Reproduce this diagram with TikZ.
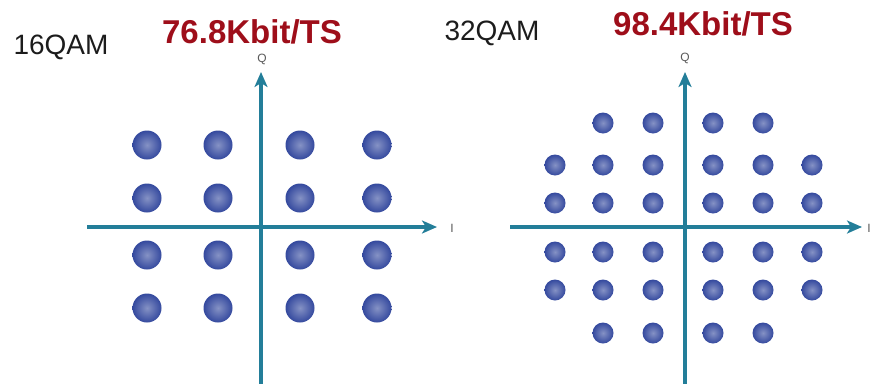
\documentclass[tikz,border=0pt]{standalone}
\usepackage{fontspec}
\setmainfont{Liberation Sans}
\usetikzlibrary{arrows.meta, positioning, calc}
\definecolor{AxisTeal}{HTML}{237E99}
\definecolor{DotBlue}{HTML}{34499E}
\definecolor{RateRed}{HTML}{9E0E1A}
\definecolor{LabelGrey}{HTML}{1C1C1C}

\begin{document}
\begin{tikzpicture}[x=1pt, y=-1pt, every node/.style={inner sep=0pt}]
    \tikzstyle{axis} = [draw=AxisTeal, line width=3.2pt, -{Stealth[length=15pt, width=13pt, inset=4pt]}]
    \tikzstyle{bigdot} = [circle, minimum size=29pt, inner color=DotBlue!60!white, outer color=DotBlue]
    \tikzstyle{smalldot} = [circle, minimum size=21pt, inner color=DotBlue!60!white, outer color=DotBlue]
    \tikzstyle{title} = [font=\fontsize{28}{28}\selectfont, text=LabelGrey]
    \tikzstyle{rate} = [font=\fontsize{33}{33}\selectfont\bfseries, text=RateRed]
    \tikzstyle{axlabel} = [font=\fontsize{12}{12}\selectfont, text=black!65]
    \useasboundingbox (0,0) rectangle (874,383);

    % 16QAM
    \node [title] (t16) at (61,47) {16QAM};
    \node [rate] (r16) at (252,32) {76.8Kbit/TS};
    \coordinate (left16) at (87,227);
    \coordinate (iend16) at (437,227);
    \coordinate (bot16) at (261,385);
    \coordinate (qend16) at (261,72);
    \node [axlabel] (qa) at (262,59) {Q};
    \node [axlabel] (ia) at (452,228) {I};
    \foreach \x [count=\i] in {147,218,300,377}
        \foreach \y [count=\j] in {145,198,255,308}
            \node [bigdot] (p\i\j) at (\x,\y) {};
    \path [axis] (left16) -- (iend16);
    \path [axis] (bot16) -- (qend16);

    % 32QAM
    \node [title] (t32) at (492,33) {32QAM};
    \node [rate] (r32) at (703,24) {98.4Kbit/TS};
    \coordinate (left32) at (510,227);
    \coordinate (iend32) at (862,227);
    \coordinate (bot32) at (685,385);
    \coordinate (qend32) at (685,72);
    \node [axlabel] (qb) at (685,58) {Q};
    \node [axlabel] (ib) at (869,228) {I};
    \foreach \x [count=\i] in {603,653,713,763}
        \foreach \y [count=\j] in {123,333}
            \node [smalldot] (s\i\j) at (\x,\y) {};
    \foreach \x [count=\i] in {555,603,653,713,763,812}
        \foreach \y [count=\j] in {165,203,252,290}
            \node [smalldot] (m\i\j) at (\x,\y) {};
    \path [axis] (left32) -- (iend32);
    \path [axis] (bot32) -- (qend32);
\end{tikzpicture}
\end{document}
